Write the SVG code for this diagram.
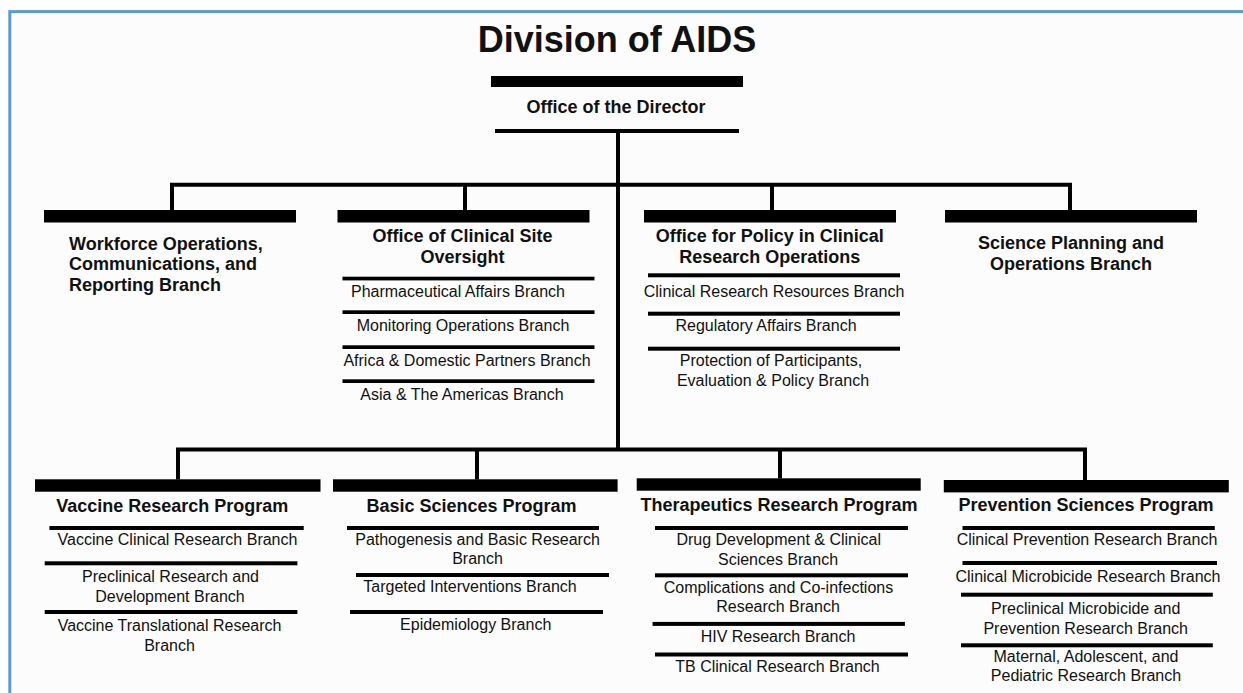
<svg xmlns="http://www.w3.org/2000/svg" width="1243" height="693" viewBox="0 0 1243 693">
<style>
.bg{fill:#fbfcfb;stroke:#5b9bd5;stroke-width:3}
.bar{fill:#000}
.sep{fill:#000}
.con{fill:none;stroke:#000;stroke-width:4;stroke-linejoin:miter;stroke-linecap:butt}
.title{font-family:"Liberation Sans",Arial,sans-serif;font-weight:bold;font-size:36px;fill:#111;text-anchor:middle}
.h{font-family:"Liberation Sans",Arial,sans-serif;font-weight:bold;font-size:18px;fill:#111;text-anchor:middle}
.hl{font-family:"Liberation Sans",Arial,sans-serif;font-weight:bold;font-size:18px;fill:#111;text-anchor:start}
.b{font-family:"Liberation Sans",Arial,sans-serif;font-size:16px;fill:#111;text-anchor:middle}
</style>
<rect width="1243" height="693" fill="#fff"/>
<rect class="bg" x="9.8" y="11.6" width="1300" height="800"/>
<text class="title" x="617" y="52">Division of AIDS</text>

<g id="connectors">
<path class="con" d="M618 131 V449.5"/>
<path class="con" d="M172 210 V184.7 H1070 V210"/>
<path class="con" d="M465 184.7 V210"/>
<path class="con" d="M772 184.7 V210"/>
<path class="con" d="M178 479.5 V449.5 H1085 V480"/>
<path class="con" d="M477 449.5 V479.5"/>
<path class="con" d="M780 449.5 V478.5"/>
</g>

<g id="director">
<rect class="bar" x="491" y="76" width="252" height="11"/>
<text class="h" x="616" y="113">Office of the Director</text>
<rect class="sep" x="495" y="129" width="244" height="4"/>
</g>

<g id="workforce">
<rect class="bar" x="44" y="210" width="252" height="12.5"/>
<text class="hl" x="69" y="250">Workforce Operations,</text>
<text class="hl" x="69" y="270.3">Communications, and</text>
<text class="hl" x="69" y="290.6">Reporting Branch</text>
</g>

<g id="clinical-site">
<rect class="bar" x="337.5" y="210" width="252" height="12.5"/>
<text class="h" x="462.5" y="242">Office of Clinical Site</text>
<text class="h" x="462.5" y="263">Oversight</text>
<rect class="sep" x="342.5" y="276.7" width="252" height="3.7"/>
<text class="b" x="458" y="296.7">Pharmaceutical Affairs Branch</text>
<rect class="sep" x="342.5" y="310.3" width="252" height="3.7"/>
<text class="b" x="463" y="331">Monitoring Operations Branch</text>
<rect class="sep" x="342.5" y="345.3" width="252" height="3.7"/>
<text class="b" x="467" y="366">Africa &amp; Domestic Partners Branch</text>
<rect class="sep" x="342.5" y="379.3" width="252" height="3.7"/>
<text class="b" x="462" y="399.5">Asia &amp; The Americas Branch</text>
</g>

<g id="policy">
<rect class="bar" x="644" y="210" width="252" height="12.5"/>
<text class="h" x="769.7" y="242">Office for Policy in Clinical</text>
<text class="h" x="769.7" y="263">Research Operations</text>
<rect class="sep" x="648" y="273.3" width="252" height="4"/>
<text class="b" x="774" y="296.7">Clinical Research Resources Branch</text>
<rect class="sep" x="648" y="311.7" width="252" height="4"/>
<text class="b" x="766" y="330.7">Regulatory Affairs Branch</text>
<rect class="sep" x="648" y="346.7" width="252" height="4"/>
<text class="b" x="771" y="366">Protection of Participants,</text>
<text class="b" x="773" y="385.7">Evaluation &amp; Policy Branch</text>
</g>

<g id="science-planning">
<rect class="bar" x="945" y="210" width="252" height="12.5"/>
<text class="h" x="1071" y="248.5">Science Planning and</text>
<text class="h" x="1071" y="269.5">Operations Branch</text>
</g>

<g id="vaccine">
<rect class="bar" x="35" y="479.3" width="285.5" height="12.4"/>
<text class="h" x="172.2" y="511.7">Vaccine Research Program</text>
<rect class="sep" x="49.4" y="526" width="254.3" height="4"/>
<text class="b" x="177.5" y="545">Vaccine Clinical Research Branch</text>
<rect class="sep" x="44.7" y="561.3" width="252.7" height="4"/>
<text class="b" x="170.5" y="581.7">Preclinical Research and</text>
<text class="b" x="170" y="601.7">Development Branch</text>
<rect class="sep" x="44.7" y="610" width="252.7" height="4"/>
<text class="b" x="169.6" y="630.7">Vaccine Translational Research</text>
<text class="b" x="169.5" y="650.7">Branch</text>
</g>

<g id="basic-sciences">
<rect class="bar" x="333" y="479.3" width="284.6" height="12.4"/>
<text class="h" x="471.5" y="512">Basic Sciences Program</text>
<rect class="sep" x="347" y="526" width="252" height="4"/>
<text class="b" x="477.5" y="545">Pathogenesis and Basic Research</text>
<text class="b" x="477.5" y="564">Branch</text>
<rect class="sep" x="356" y="573" width="253" height="4"/>
<text class="b" x="470" y="591.7">Targeted Interventions Branch</text>
<rect class="sep" x="350" y="610" width="253" height="4"/>
<text class="b" x="475.7" y="630">Epidemiology Branch</text>
</g>

<g id="therapeutics">
<rect class="bar" x="636.7" y="478.3" width="284" height="12.4"/>
<text class="h" x="779" y="510.7">Therapeutics Research Program</text>
<rect class="sep" x="655" y="526" width="253" height="4"/>
<text class="b" x="778.7" y="545">Drug Development &amp; Clinical</text>
<text class="b" x="778" y="565">Sciences Branch</text>
<rect class="sep" x="655" y="573.3" width="253" height="4"/>
<text class="b" x="778.5" y="592.7">Complications and Co-infections</text>
<text class="b" x="778" y="612.3">Research Branch</text>
<rect class="sep" x="652.6" y="621.9" width="252.3" height="4"/>
<text class="b" x="778" y="642.3">HIV Research Branch</text>
<rect class="sep" x="655" y="652.5" width="253" height="4"/>
<text class="b" x="777.5" y="672.3">TB Clinical Research Branch</text>
</g>

<g id="prevention">
<rect class="bar" x="943.8" y="480" width="285" height="12.4"/>
<text class="h" x="1086" y="511">Prevention Sciences Program</text>
<rect class="sep" x="962.5" y="526" width="252.3" height="4"/>
<text class="b" x="1087" y="545">Clinical Prevention Research Branch</text>
<rect class="sep" x="962.5" y="561" width="254.5" height="4"/>
<text class="b" x="1088" y="581.7">Clinical Microbicide Research Branch</text>
<rect class="sep" x="961" y="592.7" width="251.8" height="4"/>
<text class="b" x="1085.7" y="614">Preclinical Microbicide and</text>
<text class="b" x="1085.7" y="634">Prevention Research Branch</text>
<rect class="sep" x="961" y="643.3" width="251.8" height="4"/>
<text class="b" x="1086" y="661.7">Maternal, Adolescent, and</text>
<text class="b" x="1086" y="680.7">Pediatric Research Branch</text>
</g>
</svg>
